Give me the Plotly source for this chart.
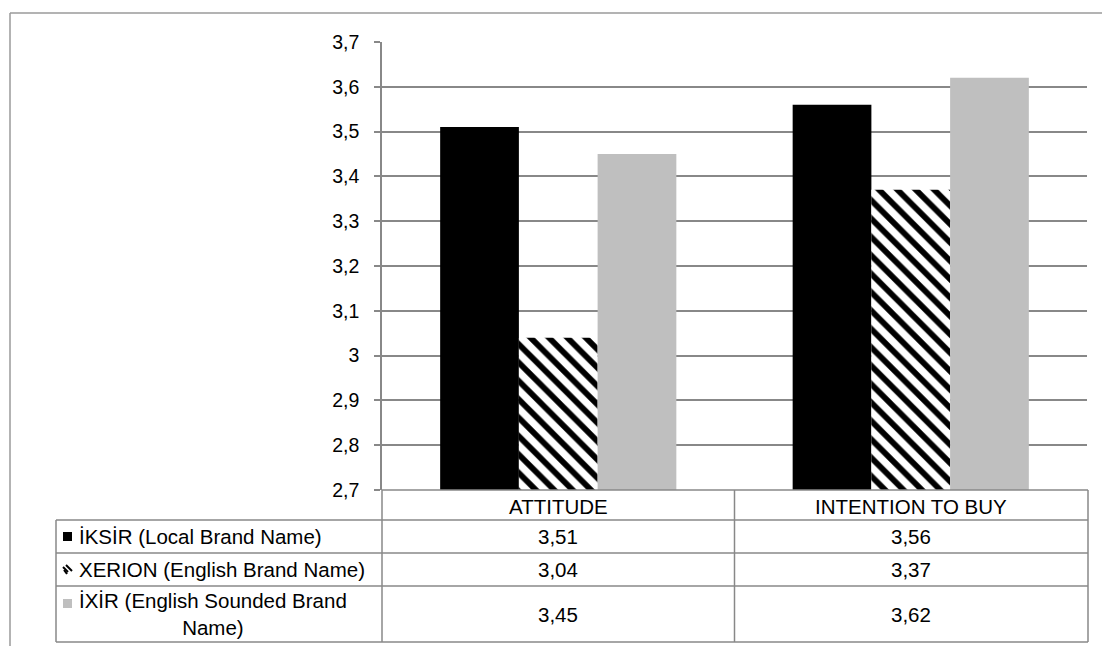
import plotly.graph_objects as go

categories = ["ATTITUDE", "INTENTION TO BUY"]
series_names = ["İKSİR (Local Brand Name)", "XERION (English Brand Name)", "İXİR (English Sounded Brand<br>Name)"]
iksir = [3.51, 3.56]
xerion = [3.04, 3.37]
ixir = [3.45, 3.62]
y_range = [2.7, 3.7]

GRID = "#888888"
FONT = "Liberation Sans, Arial, sans-serif"
W, H = 1102, 646
L, R, T, B = 382, 1087, 42, 490


def px(x):
    return (x - L) / (R - L)


def py(y):
    return (B - y) / (B - T)


fig = go.Figure()
fig.add_bar(x=categories, y=iksir, name=series_names[0], marker=dict(color="#000000", line=dict(width=0)))
fig.add_bar(x=categories, y=xerion, name=series_names[1],
            marker=dict(color="white", line=dict(width=0),
                        pattern=dict(shape="\\", fgcolor="black", bgcolor="white", size=13,
                                     solidity=0.45, fgopacity=1)))
fig.add_bar(x=categories, y=ixir, name=series_names[2], marker=dict(color="#bfbfbf", line=dict(width=0)))

shapes = []


def line(x0, y0, x1, y1, color=GRID, width=1.5, xref="paper"):
    shapes.append(dict(type="line", xref=xref, yref="paper", x0=x0, y0=y0, x1=x1, y1=y1,
                       line=dict(color=color, width=width), layer="above"))


# outer chart border
line(px(10), py(13), px(1102), py(13), color="#9a9a9a")
line(px(10), py(13), px(10), py(652), color="#9a9a9a")

# data table grid
for yy in [520, 553, 586, 642]:
    line(px(56), py(yy), px(1088), py(yy))
line(px(56), py(520), px(56), py(642))
line(px(382), py(490), px(382), py(642))
line(0.5, py(490), 0.5, py(642), xref="x")
line(px(1088), py(490), px(1088), py(642))
line(px(382), py(490), px(1088), py(490))

# legend keys
shapes.append(dict(type="rect", xref="paper", yref="paper", x0=px(63), x1=px(72), y0=py(532), y1=py(541),
                   fillcolor="black", line=dict(width=0)))
shapes.append(dict(type="rect", xref="paper", yref="paper", x0=px(63), x1=px(72), y0=py(599), y1=py(608),
                   fillcolor="#bfbfbf", line=dict(width=0)))
for (a, b, c, d) in [(63, 567, 68, 572), (66, 565, 72, 571), (64, 570, 67, 574)]:
    line(px(a), py(b), px(c), py(d), color="black", width=2)

annotations = []
txt_font = dict(family=FONT, size=20.5, color="black")
for c in categories:
    annotations.append(dict(x=c, xref="x", y=py(506), yref="paper", text=c, showarrow=False,
                            font=txt_font, xanchor="center", yanchor="middle"))

row_centers = [536.5, 569.5, 614]
for vals, name, rc in zip([iksir, xerion, ixir], series_names, row_centers):
    annotations.append(dict(x=px(77), xref="paper", y=py(rc), yref="paper", text=name, showarrow=False,
                            font=txt_font, xanchor="left", yanchor="middle", align="center"))
    for c, v in zip(categories, vals):
        annotations.append(dict(x=c, xref="x", y=py(rc), yref="paper", text=f"{v:.2f}".replace(".", ","),
                                showarrow=False, font=txt_font, xanchor="center", yanchor="middle"))

fig.update_layout(
    width=W, height=H,
    margin=dict(l=L, r=W - R, t=T, b=H - B, pad=0),
    paper_bgcolor="white", plot_bgcolor="white",
    separators=",.",
    barmode="group", bargap=0.33, bargroupgap=0,
    showlegend=False,
    font=dict(family=FONT, color="black"),
    xaxis=dict(showticklabels=False, ticks="", showline=False, showgrid=False, zeroline=False,
               range=[-0.5, 1.5]),
    yaxis=dict(range=y_range, dtick=0.1, tick0=2.7, showgrid=True, gridcolor=GRID, gridwidth=1.6,
               showline=True, linecolor=GRID, linewidth=1.6, ticks="outside", ticklen=6, tickcolor=GRID,
               tickwidth=1.6, zeroline=False, tickfont=dict(family=FONT, size=19.5, color="black"),
               ticklabelstandoff=11),
    shapes=shapes,
    annotations=annotations,
)

fig.write_html("out.html")
